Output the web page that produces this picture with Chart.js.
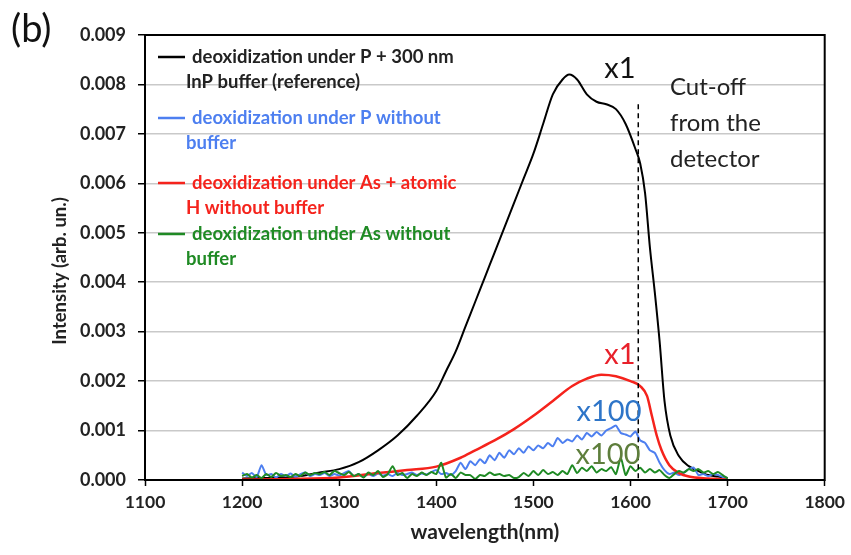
<!DOCTYPE html>
<html>
<head>
<meta charset="utf-8">
<script src="https://cdn.jsdelivr.net/npm/chart.js@4.4.1/dist/chart.umd.min.js"></script>
<style>
  html, body { margin: 0; padding: 0; background: #fff; }
  #wrap { width: 851px; height: 555px; position: relative; }
</style>
</head>
<body>
<div id="wrap"><canvas id="chart" width="851" height="555"></canvas></div>
<script>
const FONT = "Lato, 'Open Sans', sans-serif";

// reference sample: deoxidization under P + 300 nm InP buffer
const refWl  = [1200, 1220, 1240, 1260, 1280, 1300, 1320, 1340, 1360, 1380, 1400, 1410, 1420, 1430, 1440, 1450,
                1460, 1470, 1480, 1490, 1500, 1510, 1520, 1530, 1537, 1545, 1555, 1565, 1575, 1585, 1595, 1605,
                1610, 1615, 1620, 1625, 1630, 1635, 1641, 1650, 1660, 1670, 1680, 1690, 1700];
const refVal = [0.00003, 0.00004, 0.00005, 0.00008, 0.00015, 0.00022, 0.00036, 0.0006, 0.0009, 0.0013, 0.0018, 0.0022,
                0.0026, 0.0031, 0.0036, 0.0041, 0.0046, 0.0051, 0.0056, 0.0061, 0.0066, 0.0072, 0.0078, 0.0081,
                0.0082, 0.0081, 0.0078, 0.00765, 0.0076, 0.0075, 0.0072, 0.0067, 0.0064, 0.0058, 0.0047, 0.0038,
                0.0028, 0.0016, 0.0009, 0.00048, 0.00028, 0.00018, 0.0001, 0.00007, 0.00004];

// As + atomic H, no buffer (x1)
const asHWl  = [1200, 1250, 1300, 1340, 1370, 1400, 1425, 1440, 1460, 1480, 1500, 1520, 1540, 1555, 1570, 1585,
                1600, 1610, 1617, 1622, 1627, 1632, 1640, 1650, 1660, 1680, 1700];
const asHVal = [0.00001, 0.00002, 0.00005, 0.00014, 0.0002, 0.00027, 0.00045, 0.0006, 0.0008, 0.00103, 0.0013,
                0.0016, 0.0019, 0.00205, 0.00213, 0.0021, 0.002, 0.0019, 0.0017, 0.0013, 0.0009, 0.0006, 0.0003,
                0.00014, 0.00007, 0.00003, 0.00001];

// noisy series sampled every 5 nm, 1200..1700
const noisyWl = [];
for (let w = 1200; w <= 1700; w += 5) noisyWl.push(w);

// P, no buffer (x100)
const pVal = [0.00015, 0.00008, 0.00014, 0.00006, 0.0003, 0.0001, 0.00012, 0.00005, 0.00012, 0.00008,
              0.00013, 0.00006, 0.00012, 0.00015, 0.00008, 0.00012, 0.0001, 0.00014, 0.00008, 0.00012,
              0.00009, 0.00014, 0.00018, 0.00008, 0.00012, 0.00006, 0.00012, 0.00008, 0.00013, 0.00009,
              0.00012, 0.00008, 0.00014, 0.0001, 0.00012, 0.00015, 0.0001, 0.00013, 0.00011, 0.00016,
              0.0002, 0.00012, 0.00014, 0.0001, 0.00018, 0.00035, 0.00022, 0.00038, 0.0003, 0.00042,
              0.00034, 0.0005, 0.0004, 0.00055, 0.00045, 0.0006, 0.00052, 0.00064, 0.00055, 0.00068,
              0.0006, 0.0007, 0.00064, 0.00075, 0.00068, 0.00085, 0.00075, 0.00082, 0.00078, 0.0009,
              0.00082, 0.00095, 0.00088, 0.00097, 0.0009, 0.001, 0.00105, 0.0011, 0.00095, 0.00092,
              0.00088, 0.00098, 0.0008, 0.00075, 0.0006, 0.00055, 0.00035, 0.0002, 0.00012, 0.00015,
              0.0001, 0.00015, 0.00022, 0.00025, 0.0001, 0.00012, 0.00008, 0.00012, 0.0001, 0.00006, 0.00003];

// As, no buffer (x100)
const asVal = [0.00008, 0.00012, 0.00005, 0.0001, 0.00004, 0.00012, 0.00006, 0.00014, 0.00008, 0.0001,
               0.00006, 0.00012, 0.00008, 0.00015, 0.0001, 0.00014, 0.00012, 0.00016, 0.0001, 0.00018,
               0.00014, 0.0001, 0.00016, 0.00008, 0.00012, 0.00005, 0.00015, 0.0001, 0.00018, 0.00006,
               0.00012, 0.00028, 0.0001, 0.00014, 0.00004, 0.00012, 0.00008, 0.00015, 0.0001, 0.00016,
               0.00012, 0.00035, 0.00005, 0.00012, 0.00004, 0.00015, 0.0001, 0.0001, 0.00002, 0.0001,
               0.00008, 0.00015, 0.0001, 0.00012, 0.00008, 0.0001, 0.00004, 0.00006, 0.00014, 0.00008,
               0.00018, 0.0001, 0.0002, 0.00012, 0.00016, 0.0001, 0.00018, 0.00012, 0.0003, 0.00014,
               0.00025, 0.00018, 0.00028, 0.00015, 0.00022, 0.00018, 0.00026, 0.00012, 0.00045, 0.0001,
               0.00028, 0.00018, 0.00025, 0.00015, 0.00022, 0.00015, 0.0002, 0.0001, 0.00004, 0.00012,
               0.00018, 0.00015, 0.00022, 0.00018, 0.00022, 0.00015, 0.00018, 0.00012, 0.00016, 0.0001, 0.00003];

const xTicks = [1100, 1800, 100];
const yTicks = [0, 0.009, 0.001];
const CUTOFF_NM = 1608;

const legendItems = [
  { color: '#000000', lines: ['deoxidization under P + 300 nm', 'InP buffer (reference)'] },
  { color: '#4d7ff0', lines: ['deoxidization under P without', 'buffer'] },
  { color: '#f5231c', lines: ['deoxidization under As + atomic', 'H without buffer'] },
  { color: '#1f8a24', lines: ['deoxidization under As without', 'buffer'] },
];

const pts = (xs, ys) => xs.map((x, i) => ({ x, y: ys[i] }));

const decorPlugin = {
  id: 'decor',
  afterDatasetsDraw(chart) {
    const { ctx, chartArea: a, scales: { x, y } } = chart;
    ctx.save();

    // cut-off marker
    ctx.strokeStyle = '#000';
    ctx.lineWidth = 1.5;
    ctx.setLineDash([5, 4]);
    ctx.beginPath();
    ctx.moveTo(x.getPixelForValue(CUTOFF_NM), y.getPixelForValue(0.0076));
    ctx.lineTo(x.getPixelForValue(CUTOFF_NM), a.bottom);
    ctx.stroke();
    ctx.setLineDash([]);

    // legend
    let ly = [57, 118, 183, 234];
    legendItems.forEach((it, i) => {
      ctx.strokeStyle = it.color;
      ctx.lineWidth = 2.5;
      ctx.beginPath();
      ctx.moveTo(158, ly[i]);
      ctx.lineTo(185, ly[i]);
      ctx.stroke();
      ctx.fillStyle = it.color === '#000000' ? '#222' : it.color;
      ctx.font = 'bold 18.5px ' + FONT;
      ctx.textBaseline = 'middle';
      ctx.textAlign = 'left';
      ctx.fillText(it.lines[0], 192, ly[i]);
      ctx.fillText(it.lines[1], 186, ly[i] + 25);
    });

    // scale factors + note
    ctx.textAlign = 'center';
    ctx.font = '29px ' + FONT;
    ctx.fillStyle = '#111';
    ctx.fillText('x1', 620, 69);
    ctx.fillStyle = '#e8202a';
    ctx.fillText('x1', 620, 355);
    ctx.fillStyle = '#2e75c8';
    ctx.fillText('x100', 609, 412);
    ctx.fillStyle = '#5e7e3c';
    ctx.fillText('x100', 608, 455);

    ctx.textAlign = 'left';
    ctx.font = '24px ' + FONT;
    ctx.fillStyle = '#222';
    ['Cut-off', 'from the', 'detector'].forEach((t, i) => ctx.fillText(t, 670, 87 + i * 36));

    // frame
    ctx.strokeStyle = '#000';
    ctx.lineWidth = 2;
    ctx.strokeRect(a.left, a.top, a.right - a.left, a.bottom - a.top);
    ctx.restore();

    ctx.save();
    ctx.fillStyle = '#111';
    ctx.textBaseline = 'middle';
    ctx.font = '38px ' + FONT;
    ctx.fillText('(b)', 11, 30);
    // y axis title
    ctx.translate(60, 271);
    ctx.rotate(-Math.PI / 2);
    ctx.textAlign = 'center';
    ctx.fillStyle = '#222';
    ctx.font = 'bold 18.5px ' + FONT;
    ctx.fillText('Intensity (arb. un.)', 0, 0);
    ctx.restore();
  }
};

new Chart(document.getElementById('chart'), {
  type: 'line',
  data: {
    datasets: [
      { data: pts(refWl, refVal), borderColor: '#000', borderWidth: 2, cubicInterpolationMode: 'monotone', order: 3 },
      { data: pts(noisyWl, pVal), borderColor: '#4d7ff0', borderWidth: 2, tension: 0.2, order: 2 },
      { data: pts(asHWl, asHVal), borderColor: '#f5231c', borderWidth: 2.5, cubicInterpolationMode: 'monotone', order: 1 },
      { data: pts(noisyWl, asVal), borderColor: '#1f8a24', borderWidth: 2, tension: 0.2, order: 0 },
    ],
  },
  options: {
    responsive: false,
    animation: false,
    elements: { point: { radius: 0 } },
    layout: { padding: { top: 35, right: 23, left: 0, bottom: 0 } },
    plugins: { legend: { display: false }, tooltip: { enabled: false } },
    scales: {
      x: {
        type: 'linear',
        min: xTicks[0], max: xTicks[1],
        afterFit: s => { s.height = 75; },
        ticks: { stepSize: xTicks[2], padding: 6, color: '#222', callback: v => String(v),
                 font: { family: FONT, size: 17.5, weight: 'bold' } },
        grid: { drawOnChartArea: false, tickColor: '#000', tickLength: 6, tickWidth: 1.5 },
        border: { display: false },
        title: { display: true, text: 'wavelength(nm)', color: '#222', padding: { bottom: 10 },
                 font: { family: FONT, size: 21, weight: 'bold' } },
      },
      y: {
        min: yTicks[0], max: yTicks[1],
        afterFit: s => { s.width = 145; },
        ticks: { stepSize: yTicks[2], padding: 12, color: '#222', callback: v => v.toFixed(3),
                 font: { family: FONT, size: 18, weight: 'bold' } },
        grid: { color: '#c9c9c9', lineWidth: 1.5, tickColor: '#000', tickLength: 7, tickWidth: 1.5 },
        border: { display: false },
      },
    },
  },
  plugins: [decorPlugin],
});
</script>
</body>
</html>
